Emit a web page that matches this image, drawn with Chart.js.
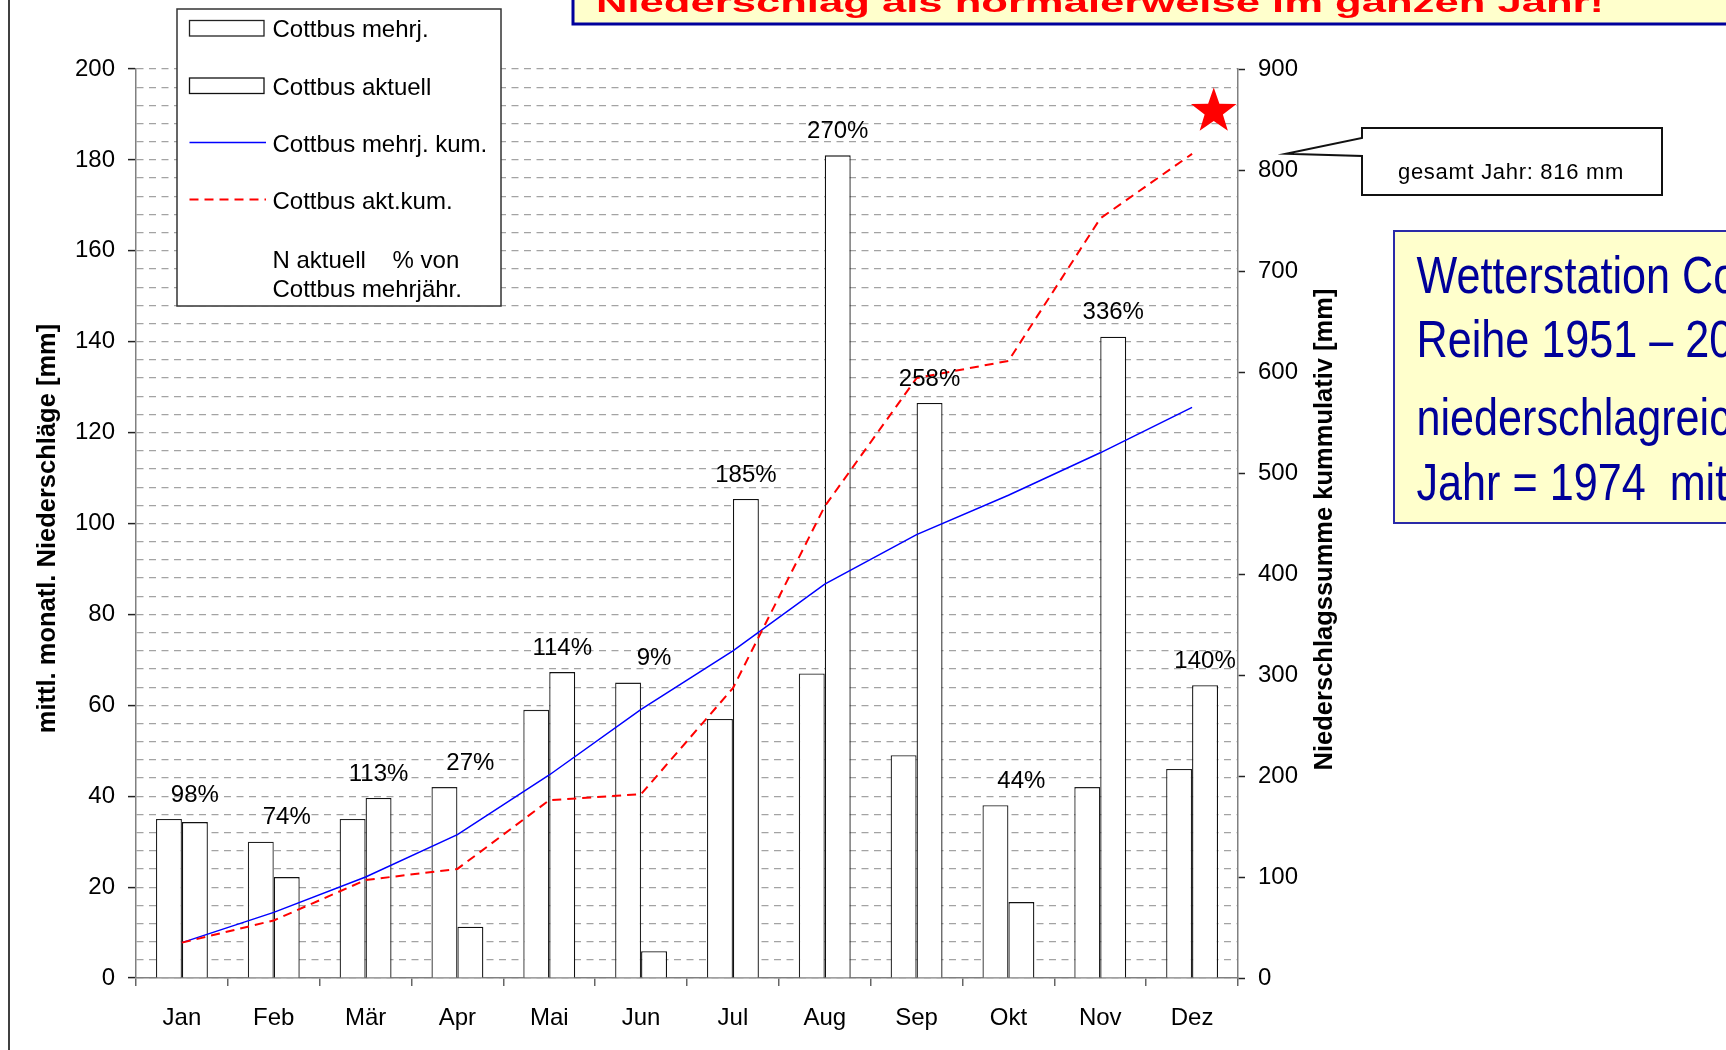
<!DOCTYPE html>
<html>
<head>
<meta charset="utf-8">
<script src="https://cdn.jsdelivr.net/npm/chart.js@4.4.1/dist/chart.umd.min.js"></script>
<style>
  html, body { margin: 0; padding: 0; background: #fff; overflow: hidden; }
  canvas { display: block; }
</style>
</head>
<body>
<canvas id="chart" width="1726" height="1050"></canvas>
<script>
// Monthly precipitation, Cottbus: long-term mean vs. current year
const months = ['Jan', 'Feb', 'Mär', 'Apr', 'Mai', 'Jun', 'Jul', 'Aug', 'Sep', 'Okt', 'Nov', 'Dez'];
const mehrjaehrig = [35, 30, 35, 42, 59, 65, 57, 67, 49, 38, 42, 46];
const aktuell = [34.3, 22.2, 39.6, 11.3, 67.3, 5.9, 105.4, 181.0, 126.5, 16.7, 141.1, 64.4];
const mehrjKum = [35, 65, 100, 142, 201, 266, 324, 390, 439, 478, 520, 565];
const aktKum = [35, 57, 97, 108, 176, 182, 287, 467, 594, 611, 752, 816];
const prozentLabels = ['98%', '74%', '113%', '27%', '114%', '9%', '185%', '270%', '258%', '44%', '336%', '140%'];
const leftTickLabels = [0, 20, 40, 60, 80, 100, 120, 140, 160, 180, 200];
const rightTickLabels = [0, 100, 200, 300, 400, 500, 600, 700, 800, 900];
const seriesNames = ['Cottbus mehrj.', 'Cottbus aktuell', 'Cottbus mehrj. kum.', 'Cottbus akt.kum.'];
const pctLegend = ['N aktuell    % von', 'Cottbus mehrjähr.'];
const axisTitleLeft = 'mittl. monatl. Niederschläge [mm]';
const axisTitleRight = 'Niederschlagssumme kummulativ [mm]';
const bannerText = 'Niederschlag als normalerweise im ganzen Jahr!';
const infoLines = ['Wetterstation Co', 'Reihe 1951 – 20', 'niederschlagreic', 'Jahr = 1974  mit'];

const FONT = "'Liberation Sans', Arial, Helvetica, sans-serif";
Chart.defaults.font.family = FONT;
Chart.defaults.font.size = 24;
Chart.defaults.color = '#000';

const leftMajor = leftTickLabels[1] - leftTickLabels[0];
const rightMajor = rightTickLabels[1] - rightTickLabels[0];

function drawStar(ctx, cx, cy, R, r) {
  ctx.beginPath();
  for (let i = 0; i < 10; i++) {
    const rad = i % 2 === 0 ? R : r;
    const a = -Math.PI / 2 + i * Math.PI / 5;
    const px = cx + rad * Math.cos(a), py = cy + rad * Math.sin(a);
    if (i === 0) ctx.moveTo(px, py); else ctx.lineTo(px, py);
  }
  ctx.closePath();
  ctx.fill();
}

// background panels: frame line and the two yellow text boxes
const backdrop = {
  id: 'backdrop',
  beforeDraw(chart) {
    const ctx = chart.ctx;
    ctx.save();
    ctx.fillStyle = '#fff';
    ctx.fillRect(0, 0, chart.width, chart.height);
    // frame line on the left
    ctx.strokeStyle = '#000';
    ctx.lineWidth = 1.5;
    ctx.beginPath(); ctx.moveTo(9, 0); ctx.lineTo(9, chart.height); ctx.stroke();

    // top banner (cut by the page edge)
    ctx.fillStyle = '#ffffcc';
    ctx.fillRect(573, -10, 1200, 34);
    ctx.strokeStyle = '#00009c';
    ctx.lineWidth = 3;
    ctx.strokeRect(573, -10, 1200, 34);
    ctx.save();
    ctx.beginPath(); ctx.rect(575, 0, 1160, 22); ctx.clip();
    ctx.font = 'bold 46px ' + FONT;
    ctx.fillStyle = '#ff0000';
    ctx.textBaseline = 'alphabetic';
    const w = ctx.measureText(bannerText).width;
    ctx.translate(596, 11.5);
    ctx.scale(1008 / w, 0.6);
    ctx.fillText(bannerText, 0, 0);
    ctx.restore();

    // station info box on the right
    ctx.fillStyle = '#ffffcc';
    ctx.fillRect(1394, 231, 400, 292);
    ctx.strokeStyle = '#2a2aa8';
    ctx.lineWidth = 2;
    ctx.strokeRect(1394, 231, 400, 292);
    ctx.fillStyle = '#000099';
    ctx.font = '52px ' + FONT;
    ctx.textAlign = 'left';
    ctx.textBaseline = 'alphabetic';
    const base = [293, 357, 435, 500];
    infoLines.forEach((t, i) => {
      ctx.save();
      ctx.translate(1416.5, base[i]);
      ctx.scale(0.83, 1);
      ctx.fillText(t, 0, 0);
      ctx.restore();
    });
    ctx.restore();
  }
};

// percentage labels, axis titles, legend, star and total callout
const overlay = {
  id: 'overlay',
  afterDraw(chart) {
    const ctx = chart.ctx;
    const y = chart.scales.y, y2 = chart.scales.y2, x = chart.scales.x;
    const area = chart.chartArea;
    ctx.save();

    // % of long-term mean, above each month's bars
    ctx.font = '24px ' + FONT;
    ctx.fillStyle = '#000';
    ctx.textAlign = 'center';
    ctx.textBaseline = 'middle';
    const metaAkt = chart.getDatasetMeta(1);
    prozentLabels.forEach((t, i) => {
      const top = Math.min(y.getPixelForValue(mehrjaehrig[i]), y.getPixelForValue(aktuell[i]));
      ctx.fillText(t, metaAkt.data[i].x, top - 24);
    });

    // axis titles
    ctx.font = 'bold 25.5px ' + FONT;
    ctx.save();
    ctx.translate(48, (area.top + area.bottom) / 2 + 5);
    ctx.rotate(-Math.PI / 2);
    ctx.fillText(axisTitleLeft, 0, 0);
    ctx.restore();
    ctx.save();
    ctx.translate(1325, (area.top + area.bottom) / 2 + 6);
    ctx.rotate(-Math.PI / 2);
    ctx.fillText(axisTitleRight, 0, 0);
    ctx.restore();

    // legend
    const lx = 177, ly = 9, lw = 324, lh = 297;
    ctx.fillStyle = '#fff';
    ctx.fillRect(lx, ly, lw, lh);
    ctx.strokeStyle = '#333';
    ctx.lineWidth = 1.5;
    ctx.strokeRect(lx, ly, lw, lh);
    const rows = [28.5, 86, 143, 200];
    const ds = chart.data.datasets;
    ctx.font = '24px ' + FONT;
    ctx.textAlign = 'left';
    ctx.textBaseline = 'middle';
    rows.forEach((ry, i) => {
      const d = ds[i];
      if (i < 2) {
        ctx.fillStyle = d.backgroundColor;
        ctx.fillRect(189.5, ry - 8, 74.5, 15.5);
        ctx.strokeStyle = d.borderColor;
        ctx.lineWidth = 1.3;
        ctx.setLineDash([]);
        ctx.strokeRect(189.5, ry - 8, 74.5, 15.5);
      } else {
        ctx.strokeStyle = d.borderColor;
        ctx.lineWidth = d.borderWidth;
        ctx.setLineDash(d.borderDash || []);
        ctx.beginPath(); ctx.moveTo(189.5, ry - 0.5); ctx.lineTo(266, ry - 0.5); ctx.stroke();
        ctx.setLineDash([]);
      }
      ctx.fillStyle = '#000';
      ctx.fillText(seriesNames[i], 272.5, ry + 2);
    });
    ctx.fillText(pctLegend[0], 272.5, 261);
    ctx.fillText(pctLegend[1], 272.5, 290);

    // marker for the year's total
    const catW = (x.getPixelForValue(1) - x.getPixelForValue(0));
    ctx.fillStyle = '#ff0000';
    drawStar(ctx, x.getPixelForValue(11) + 0.236 * catW, y2.getPixelForValue(858), 24, 9.6);

    // callout with the annual sum
    const total = aktKum[aktKum.length - 1];
    const tipX = area.right + 48, tipY = y2.getPixelForValue(total);
    const bl = 1362, bt = 128, br = 1662, bb = 195;
    ctx.beginPath();
    ctx.moveTo(bl, 156);
    ctx.lineTo(bl, bb);
    ctx.lineTo(br, bb);
    ctx.lineTo(br, bt);
    ctx.lineTo(bl, bt);
    ctx.lineTo(bl, 138);
    ctx.lineTo(tipX, tipY);
    ctx.closePath();
    ctx.fillStyle = '#fff';
    ctx.fill();
    ctx.strokeStyle = '#111';
    ctx.lineWidth = 2;
    ctx.stroke();
    ctx.fillStyle = '#000';
    ctx.font = '22px ' + FONT;
    ctx.textAlign = 'center';
    ctx.textBaseline = 'alphabetic';
    try { ctx.letterSpacing = '0.7px'; } catch (e) {}
    ctx.fillText('gesamt Jahr: ' + total + ' mm', 1511, 179);
    try { ctx.letterSpacing = '0px'; } catch (e) {}

    ctx.restore();
  }
};

new Chart(document.getElementById('chart').getContext('2d'), {
  type: 'bar',
  data: {
    labels: months,
    datasets: [
      {
        label: seriesNames[0], data: mehrjaehrig, yAxisID: 'y', order: 2,
        backgroundColor: '#ffffff', borderColor: '#222', borderWidth: 1.3,
        categoryPercentage: 0.565, barPercentage: 1
      },
      {
        label: seriesNames[1], data: aktuell, yAxisID: 'y', order: 2,
        backgroundColor: '#ffffff', borderColor: '#111', borderWidth: 1.3,
        categoryPercentage: 0.565, barPercentage: 1
      },
      {
        type: 'line', label: seriesNames[2], data: mehrjKum, yAxisID: 'y2', order: 1,
        borderColor: '#0000ff', borderWidth: 1.5, pointRadius: 0, tension: 0, fill: false
      },
      {
        type: 'line', label: seriesNames[3], data: aktKum, yAxisID: 'y2', order: 0,
        borderColor: '#ff0000', borderWidth: 2, borderDash: [9, 6], pointRadius: 0, tension: 0, fill: false
      }
    ]
  },
  options: {
    responsive: false,
    animation: false,
    devicePixelRatio: 1,
    layout: { padding: { left: 0, right: 388, top: 69, bottom: 0 } },
    plugins: { legend: { display: false }, tooltip: { enabled: false } },
    scales: {
      x: {
        grid: { display: true, drawOnChartArea: false, offset: true, tickLength: 8, color: '#666', lineWidth: 1.5 },
        border: { color: '#808080', width: 1.5 },
        ticks: { font: { size: 24 }, color: '#000', padding: 18, maxRotation: 0 },
        afterFit(s) { s.height = 72; }
      },
      y: {
        position: 'left', min: leftTickLabels[0], max: leftTickLabels[leftTickLabels.length - 1],
        ticks: {
          stepSize: leftMajor / 5, autoSkip: false, padding: 13, color: '#000', font: { size: 24 },
          callback: v => (v % leftMajor === 0 ? String(v) : '')
        },
        grid: {
          color: '#a3a3a3', lineWidth: 1.2, tickLength: 8, tickWidth: 1.5,
          tickColor: c => (c.tick && c.tick.value % leftMajor === 0 ? '#222' : 'rgba(0,0,0,0)')
        },
        border: { color: '#808080', width: 1.5, dash: [7, 5.5] },
        afterFit(s) { s.width = 136; }
      },
      y2: {
        position: 'right', min: rightTickLabels[0], max: rightTickLabels[rightTickLabels.length - 1],
        ticks: { stepSize: rightMajor, autoSkip: false, padding: 13, color: '#000', font: { size: 24 } },
        grid: { drawOnChartArea: false, tickLength: 7, tickColor: '#222', tickWidth: 1.5 },
        border: { color: '#808080', width: 1.5 },
        afterFit(s) { s.width = 100; }
      }
    }
  },
  plugins: [backdrop, overlay]
});
</script>
</body>
</html>
